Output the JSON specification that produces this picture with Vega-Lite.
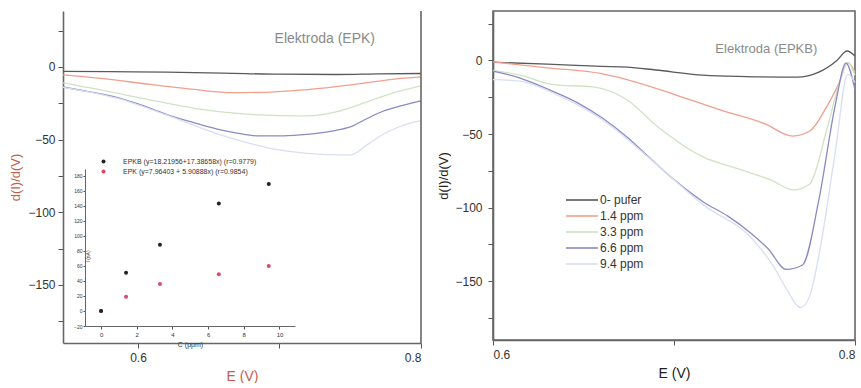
{
  "$schema": "https://vega.github.io/schema/vega-lite/v6.json",
  "padding": {"left": 9, "top": 10, "right": 0, "bottom": 0},
  "background": "white",
  "bounds": "flush",
  "spacing": 72,
  "config": {
    "font": "Liberation Sans",
    "view": {"stroke": null},
    "axis": {
      "grid": false,
      "domainColor": "#666",
      "domainWidth": 1.6,
      "tickColor": "#555",
      "tickSize": 5,
      "labelColor": "#333",
      "labelFontSize": 12,
      "titleFontWeight": "normal",
      "titleFontSize": 14,
      "titleColor": "#333"
    }
  },
  "datasets": {
    "epk": [
      {"s": "0- pufer", "E": 0.547, "V": -3}, {"s": "0- pufer", "E": 0.58, "V": -3.2}, {"s": "0- pufer", "E": 0.62, "V": -3.6}, {"s": "0- pufer", "E": 0.66, "V": -4.2}, {"s": "0- pufer", "E": 0.7, "V": -5}, {"s": "0- pufer", "E": 0.74, "V": -5.2}, {"s": "0- pufer", "E": 0.77, "V": -4.8}, {"s": "0- pufer", "E": 0.8, "V": -4.5},
      {"s": "1.4 ppm", "E": 0.547, "V": -5.5}, {"s": "1.4 ppm", "E": 0.575, "V": -8}, {"s": "1.4 ppm", "E": 0.6085, "V": -12}, {"s": "1.4 ppm", "E": 0.64, "V": -15.5}, {"s": "1.4 ppm", "E": 0.667, "V": -17.7}, {"s": "1.4 ppm", "E": 0.69, "V": -17.5}, {"s": "1.4 ppm", "E": 0.7145, "V": -16}, {"s": "1.4 ppm", "E": 0.74, "V": -13.5}, {"s": "1.4 ppm", "E": 0.762, "V": -10.8}, {"s": "1.4 ppm", "E": 0.78, "V": -8.5}, {"s": "1.4 ppm", "E": 0.8, "V": -6.9},
      {"s": "3.3 ppm", "E": 0.547, "V": -11}, {"s": "3.3 ppm", "E": 0.58, "V": -17}, {"s": "3.3 ppm", "E": 0.61, "V": -23}, {"s": "3.3 ppm", "E": 0.64, "V": -28.5}, {"s": "3.3 ppm", "E": 0.67, "V": -32}, {"s": "3.3 ppm", "E": 0.7, "V": -33.5}, {"s": "3.3 ppm", "E": 0.72, "V": -33.7}, {"s": "3.3 ppm", "E": 0.74, "V": -31}, {"s": "3.3 ppm", "E": 0.762, "V": -24}, {"s": "3.3 ppm", "E": 0.78, "V": -18}, {"s": "3.3 ppm", "E": 0.8, "V": -13},
      {"s": "6.6 ppm", "E": 0.547, "V": -13.8}, {"s": "6.6 ppm", "E": 0.565, "V": -17}, {"s": "6.6 ppm", "E": 0.585, "V": -21}, {"s": "6.6 ppm", "E": 0.6, "V": -25.5}, {"s": "6.6 ppm", "E": 0.62, "V": -32.6}, {"s": "6.6 ppm", "E": 0.64, "V": -38.5}, {"s": "6.6 ppm", "E": 0.656, "V": -42.8}, {"s": "6.6 ppm", "E": 0.67, "V": -45.5}, {"s": "6.6 ppm", "E": 0.686, "V": -47.5}, {"s": "6.6 ppm", "E": 0.7, "V": -47.5}, {"s": "6.6 ppm", "E": 0.7145, "V": -46.8}, {"s": "6.6 ppm", "E": 0.738, "V": -44}, {"s": "6.6 ppm", "E": 0.75, "V": -41.3}, {"s": "6.6 ppm", "E": 0.762, "V": -35.5}, {"s": "6.6 ppm", "E": 0.773, "V": -30.5}, {"s": "6.6 ppm", "E": 0.785, "V": -27}, {"s": "6.6 ppm", "E": 0.8, "V": -23.4},
      {"s": "9.4 ppm", "E": 0.547, "V": -14}, {"s": "9.4 ppm", "E": 0.585, "V": -21.5}, {"s": "9.4 ppm", "E": 0.62, "V": -33}, {"s": "9.4 ppm", "E": 0.656, "V": -46}, {"s": "9.4 ppm", "E": 0.675, "V": -51.5}, {"s": "9.4 ppm", "E": 0.691, "V": -55.5}, {"s": "9.4 ppm", "E": 0.71, "V": -58.5}, {"s": "9.4 ppm", "E": 0.726, "V": -60}, {"s": "9.4 ppm", "E": 0.74, "V": -60.5}, {"s": "9.4 ppm", "E": 0.75, "V": -60.5}, {"s": "9.4 ppm", "E": 0.762, "V": -53.5}, {"s": "9.4 ppm", "E": 0.773, "V": -46.5}, {"s": "9.4 ppm", "E": 0.785, "V": -41}, {"s": "9.4 ppm", "E": 0.8, "V": -37}
    ],
    "epkb": [
      {"s": "0- pufer", "E": 0.6, "V": -1.2}, {"s": "0- pufer", "E": 0.63, "V": -2.5}, {"s": "0- pufer", "E": 0.66, "V": -4}, {"s": "0- pufer", "E": 0.674, "V": -4.5}, {"s": "0- pufer", "E": 0.69, "V": -6.5}, {"s": "0- pufer", "E": 0.716, "V": -10}, {"s": "0- pufer", "E": 0.74, "V": -11}, {"s": "0- pufer", "E": 0.768, "V": -11.4}, {"s": "0- pufer", "E": 0.78, "V": -8}, {"s": "0- pufer", "E": 0.79, "V": 0}, {"s": "0- pufer", "E": 0.7956, "V": 6.4}, {"s": "0- pufer", "E": 0.8, "V": 3},
      {"s": "1.4 ppm", "E": 0.6, "V": -1}, {"s": "1.4 ppm", "E": 0.63, "V": -5}, {"s": "1.4 ppm", "E": 0.66, "V": -9}, {"s": "1.4 ppm", "E": 0.674, "V": -13}, {"s": "1.4 ppm", "E": 0.7, "V": -23}, {"s": "1.4 ppm", "E": 0.7254, "V": -33.6}, {"s": "1.4 ppm", "E": 0.75, "V": -43}, {"s": "1.4 ppm", "E": 0.7657, "V": -51.4}, {"s": "1.4 ppm", "E": 0.775, "V": -48}, {"s": "1.4 ppm", "E": 0.785, "V": -30}, {"s": "1.4 ppm", "E": 0.791, "V": -16}, {"s": "1.4 ppm", "E": 0.796, "V": -1.5}, {"s": "1.4 ppm", "E": 0.8, "V": -8},
      {"s": "3.3 ppm", "E": 0.6, "V": -6.8}, {"s": "3.3 ppm", "E": 0.615, "V": -10}, {"s": "3.3 ppm", "E": 0.633, "V": -16.4}, {"s": "3.3 ppm", "E": 0.655, "V": -18}, {"s": "3.3 ppm", "E": 0.674, "V": -26.7}, {"s": "3.3 ppm", "E": 0.691, "V": -45}, {"s": "3.3 ppm", "E": 0.716, "V": -65.5}, {"s": "3.3 ppm", "E": 0.735, "V": -73.5}, {"s": "3.3 ppm", "E": 0.754, "V": -81.5}, {"s": "3.3 ppm", "E": 0.766, "V": -88}, {"s": "3.3 ppm", "E": 0.775, "V": -84}, {"s": "3.3 ppm", "E": 0.784, "V": -49}, {"s": "3.3 ppm", "E": 0.791, "V": -17}, {"s": "3.3 ppm", "E": 0.796, "V": -1.4}, {"s": "3.3 ppm", "E": 0.8, "V": -10},
      {"s": "6.6 ppm", "E": 0.6, "V": -7.3}, {"s": "6.6 ppm", "E": 0.615, "V": -12}, {"s": "6.6 ppm", "E": 0.633, "V": -21}, {"s": "6.6 ppm", "E": 0.647, "V": -29}, {"s": "6.6 ppm", "E": 0.66, "V": -38.8}, {"s": "6.6 ppm", "E": 0.674, "V": -52}, {"s": "6.6 ppm", "E": 0.688, "V": -67.8}, {"s": "6.6 ppm", "E": 0.7, "V": -81}, {"s": "6.6 ppm", "E": 0.716, "V": -96}, {"s": "6.6 ppm", "E": 0.73, "V": -106}, {"s": "6.6 ppm", "E": 0.743, "V": -118}, {"s": "6.6 ppm", "E": 0.752, "V": -128}, {"s": "6.6 ppm", "E": 0.762, "V": -142}, {"s": "6.6 ppm", "E": 0.771, "V": -139}, {"s": "6.6 ppm", "E": 0.78, "V": -95}, {"s": "6.6 ppm", "E": 0.789, "V": -31}, {"s": "6.6 ppm", "E": 0.795, "V": -1.8}, {"s": "6.6 ppm", "E": 0.8, "V": -20},
      {"s": "9.4 ppm", "E": 0.6, "V": -13}, {"s": "9.4 ppm", "E": 0.615, "V": -14}, {"s": "9.4 ppm", "E": 0.633, "V": -22}, {"s": "9.4 ppm", "E": 0.66, "V": -40}, {"s": "9.4 ppm", "E": 0.688, "V": -68}, {"s": "9.4 ppm", "E": 0.716, "V": -98}, {"s": "9.4 ppm", "E": 0.743, "V": -121}, {"s": "9.4 ppm", "E": 0.755, "V": -140}, {"s": "9.4 ppm", "E": 0.762, "V": -155}, {"s": "9.4 ppm", "E": 0.77, "V": -168}, {"s": "9.4 ppm", "E": 0.775, "V": -160}, {"s": "9.4 ppm", "E": 0.78, "V": -133}, {"s": "9.4 ppm", "E": 0.789, "V": -63}, {"s": "9.4 ppm", "E": 0.796, "V": -9.5}, {"s": "9.4 ppm", "E": 0.8, "V": -15}
    ],
    "inset": [
      {"el": "EPK", "C": 0, "I": 0}, {"el": "EPK", "C": 1.4, "I": 19}, {"el": "EPK", "C": 3.3, "I": 36}, {"el": "EPK", "C": 6.6, "I": 49}, {"el": "EPK", "C": 9.4, "I": 60},
      {"el": "EPKB", "C": 0, "I": 0}, {"el": "EPKB", "C": 1.4, "I": 51}, {"el": "EPKB", "C": 3.3, "I": 88}, {"el": "EPKB", "C": 6.6, "I": 143}, {"el": "EPKB", "C": 9.4, "I": 169}
    ]
  },
  "resolve": {"scale": {"color": "independent"}, "legend": {"color": "independent"}},
  "hconcat": [
    {
      "width": 358,
      "height": 332,
      "layer": [
        {
          "layer": [
            {
              "data": {"name": "epk"},
              "mark": {"type": "line", "interpolate": "monotone", "strokeWidth": 1.3},
              "encoding": {
                "x": {"field": "E", "type": "quantitative", "scale": {"domain": [0.547, 0.8], "nice": false, "zero": false},
                  "axis": {"orient": "bottom", "values": [0.6, 0.7, 0.8], "labelExpr": "datum.value == 0.7 ? '' : format(datum.value, '.1f')", "labelPadding": 4, "title": "E (V)", "titleColor": "#c0604a", "titlePadding": 6, "titleFontSize": 14}},
                "y": {"field": "V", "type": "quantitative", "scale": {"domain": [-190, 38.5], "nice": false, "zero": false},
                  "axis": {"orient": "left", "values": [25, 0, -25, -50, -75, -100, -125, -150, -175], "labelExpr": "datum.value % 50 == 0 ? datum.label : ''", "labelPadding": 3, "title": "d(I)/d(V)", "titleColor": "#c0604a", "titlePadding": 5, "titleFontSize": 13}},
                "color": {"field": "s", "type": "nominal", "legend": null,
                  "scale": {"domain": ["0- pufer", "1.4 ppm", "3.3 ppm", "6.6 ppm", "9.4 ppm"], "range": ["#5a5a5a", "#f0a08c", "#cfe3c4", "#8a8ac4", "#d9def2"]}}
              }
            },
            {
              "data": {"values": [{"E": 0.8}]},
              "mark": {"type": "rule", "color": "#666", "strokeWidth": 1.6},
              "encoding": {"x": {"field": "E", "type": "quantitative"}}
            },
            {
              "data": {"values": [{"E": 0.732, "V": 19, "t": "Elektroda (EPK)"}]},
              "mark": {"type": "text", "fontSize": 14, "color": "#8a8a8a", "align": "center", "baseline": "middle"},
              "encoding": {"x": {"field": "E", "type": "quantitative"}, "y": {"field": "V", "type": "quantitative"}, "text": {"field": "t"}}
            }
          ]
        },
        {
          "data": {"name": "inset"},
          "mark": {"type": "point", "filled": true, "size": 16, "opacity": 1},
          "encoding": {
            "x": {"field": "C", "type": "quantitative", "scale": {"domain": [-0.9, 10.87], "range": [22, 232], "nice": false, "zero": false},
              "axis": {"orient": "bottom", "offset": -17, "values": [0, 2, 4, 6, 8, 10], "labelFontSize": 6, "tickSize": 3, "labelPadding": 2, "domainWidth": 1, "title": "C (ppm)", "titleFontSize": 7, "titleColor": "#333", "titlePadding": 3}},
            "y": {"field": "I", "type": "quantitative", "scale": {"domain": [-20, 189], "range": [315, 158], "nice": false, "zero": false},
              "axis": {"orient": "left", "offset": -22, "values": [-20, 0, 20, 40, 60, 80, 100, 120, 140, 160, 180], "labelFontSize": 5, "tickSize": 2, "labelPadding": 1, "domainWidth": 1, "title": "I (nA)", "titleFontSize": 5, "titleColor": "#333", "titleX": 5, "titleY": 245}},
            "color": {"field": "el", "type": "nominal",
              "scale": {"domain": ["EPKB", "EPK"], "range": ["#222222", "#d94a6a"]},
              "legend": {"orient": "none", "legendX": 37, "legendY": 147, "title": null, "symbolSize": 16, "symbolType": "circle", "labelFontSize": 7, "labelColor": "#333", "labelOffset": 16, "rowPadding": 2,
                "labelExpr": "datum.label == 'EPKB' ? 'EPKB (y=18.21956+17.38658x) (r=0.9779)' : 'EPK  (y=7.96403 + 5.90888x) (r=0.9854)'"}}
          }
        }
      ],
      "resolve": {"scale": {"x": "independent", "y": "independent", "color": "independent"}, "axis": {"x": "independent", "y": "independent"}}
    },
    {
      "width": 362,
      "height": 329,
      "view": {"stroke": "#666", "strokeWidth": 1.6},
      "layer": [
        {
          "data": {"name": "epkb"},
          "mark": {"type": "line", "interpolate": "monotone", "strokeWidth": 1.3},
          "encoding": {
            "x": {"field": "E", "type": "quantitative", "scale": {"domain": [0.6, 0.8], "nice": false, "zero": false},
              "axis": {"orient": "bottom", "values": [0.6, 0.7, 0.8], "labelExpr": "datum.value == 0.7 ? '' : format(datum.value, '.1f')", "labelPadding": 4, "title": "E (V)", "titleColor": "#222", "titlePadding": 6, "titleFontSize": 14}},
            "y": {"field": "V", "type": "quantitative", "scale": {"domain": [-190, 33.6], "nice": false, "zero": false},
              "axis": {"orient": "left", "values": [25, 0, -25, -50, -75, -100, -125, -150, -175], "labelExpr": "datum.value % 50 == 0 ? datum.label : ''", "labelPadding": 6, "title": "d(I)/d(V)", "titleColor": "#222", "titlePadding": 4, "titleFontSize": 13}},
            "color": {"field": "s", "type": "nominal",
              "scale": {"domain": ["0- pufer", "1.4 ppm", "3.3 ppm", "6.6 ppm", "9.4 ppm"], "range": ["#5a5a5a", "#f0a08c", "#cfe3c4", "#8a8ac4", "#d9def2"]},
              "legend": {"orient": "none", "legendX": 83, "legendY": 183, "title": null, "symbolType": "M-3.2,0H3.2", "symbolSize": 100, "symbolStrokeWidth": 1.6, "symbolFillColor": "transparent", "labelFontSize": 12, "labelColor": "#333", "labelOffset": 12, "rowPadding": 4}}
          }
        },
        {
          "data": {"values": [{"E": 0.751, "V": 7.5, "t": "Elektroda (EPKB)"}]},
          "mark": {"type": "text", "fontSize": 13, "color": "#8a8a8a", "align": "center", "baseline": "middle"},
          "encoding": {"x": {"field": "E", "type": "quantitative"}, "y": {"field": "V", "type": "quantitative"}, "text": {"field": "t"}}
        }
      ]
    }
  ]
}
